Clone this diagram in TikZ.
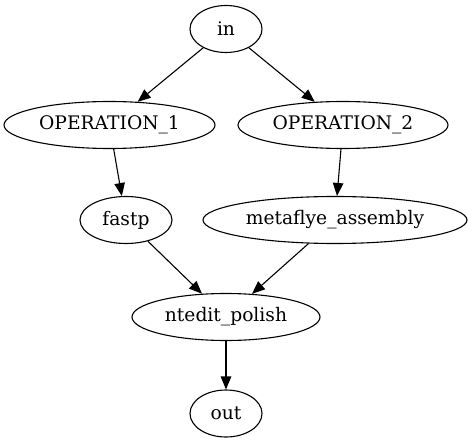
\documentclass[tikz,border=0pt]{standalone}
\usepackage{fontspec}
\setmainfont{DejaVu Serif}
\usetikzlibrary{shapes.geometric,arrows.meta}
\begin{document}
\begin{tikzpicture}[x=1pt,y=-1pt,
  gnode/.style={ellipse,draw,line width=1.1pt,inner sep=0pt,minimum height=47pt,font=\fontsize{18.67}{20}\selectfont},
  gedge/.style={draw,line width=1.1pt,-{Triangle[length=13pt,width=10.5pt]}}]
\useasboundingbox (0,0) rectangle (473,443);
\node[gnode,minimum width=72pt] (in) at (226,29) {in};
\node[gnode,minimum width=211pt] (op1) at (109.5,125) {OPERATION\_1};
\node[gnode,minimum width=210pt] (op2) at (343,125) {OPERATION\_2};
\node[gnode,minimum width=92pt] (fastp) at (126,220) {fastp};
\node[gnode,minimum width=264pt] (meta) at (335,220) {metaflye\_assembly};
\node[gnode,minimum width=188pt] (nt) at (226,317) {ntedit\_polish};
\node[gnode,minimum width=72pt] (out) at (226,413.5) {out};
\draw[gedge] (in) -- (op1);
\draw[gedge] (in) -- (op2);
\draw[gedge] (op1) -- (fastp);
\draw[gedge] (op2) -- (meta);
\draw[gedge] (fastp) -- (nt);
\draw[gedge] (meta) -- (nt);
\draw[gedge] (nt) -- (out);
\end{tikzpicture}
\end{document}
